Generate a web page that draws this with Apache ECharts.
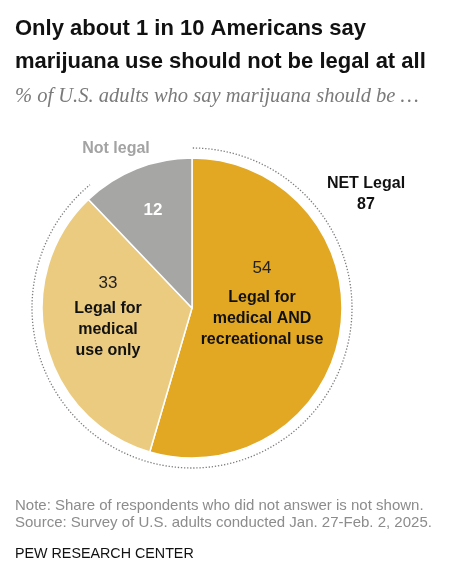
<!DOCTYPE html>
<html>
<head>
<meta charset="utf-8">
<script src="https://cdn.jsdelivr.net/npm/echarts@6/dist/echarts.min.js"></script>
<style>
  html, body { margin: 0; padding: 0; background: #fff; }
  #chart { width: 450px; height: 573px; }
</style>
</head>
<body>
<div id="chart"></div>
<script>
// ---- data ----
const categories = ['Legal for medical AND recreational use', 'Legal for medical use only', 'Not legal'];
const labelTexts = [['Legal for', 'medical AND', 'recreational use'], ['Legal for', 'medical', 'use only'], []];
const values = [54, 33, 12];
const netLabel = 'NET Legal';
const netValue = values[0] + values[1]; // 87
const notLegalLabel = 'Not legal';

// ---- layout / style ----
const CX = 192, CY = 308, R = 150, R_DOT = 160;
const colors = ['#E2A823', '#EBCB80', '#A6A6A4'];
const sliceLabelPos = [[262, 300], [108, 315], [153, 210]];
const outerLabelPos = [[366, 194], [116, 148]];
const total = values.reduce((a, b) => a + b, 0);

const chart = echarts.init(document.getElementById('chart'), null, { renderer: 'canvas' });

const mainData = values.map((v, i) => ({
  name: categories[i],
  value: v,
  itemStyle: { color: colors[i] }
}));

const outerData = [
  { name: netLabel, value: netValue },
  { name: notLegalLabel, value: values[2] }
];

const endAngle = -Math.PI / 2 + (netValue / total * 360 + 4) * Math.PI / 180;

const option = {
  backgroundColor: '#fff',
  animation: false,
  title: [
    {
      text: 'Only about 1 in 10 Americans say\nmarijuana use should not be legal at all',
      subtext: '% of U.S. adults who say marijuana should be \u2026',
      left: 15, top: 12, padding: 0, itemGap: 7,
      textStyle: { fontFamily: 'Liberation Sans', fontSize: 22, fontWeight: 'bold', color: '#111', lineHeight: 33 },
      subtextStyle: { fontFamily: 'Liberation Serif', fontStyle: 'italic', fontSize: 20.5, color: '#7a7a7a', lineHeight: 24 }
    },
    {
      text: 'Note: Share of respondents who did not answer is not shown.\nSource: Survey of U.S. adults conducted Jan. 27-Feb. 2, 2025.',
      left: 15, top: 497, padding: 0,
      textStyle: { fontFamily: 'Liberation Sans', fontSize: 15, fontWeight: 'normal', color: '#8c8c8c', lineHeight: 17 }
    },
    {
      text: 'PEW RESEARCH CENTER',
      left: 15, top: 546, padding: 0,
      textStyle: { fontFamily: 'Liberation Sans', fontSize: 14.3, fontWeight: 'normal', color: '#111', lineHeight: 16 }
    }
  ],
  graphic: [
    {
      type: 'arc',
      silent: true,
      shape: { cx: CX, cy: CY, r: R_DOT, startAngle: -Math.PI / 2 + 0.005, endAngle: endAngle, clockwise: true },
      style: { stroke: '#7d7d7d', lineWidth: 1.3, lineDash: [1.3, 1.8], fill: null }
    }
  ],
  series: [
    {
      type: 'pie',
      center: [CX, CY],
      radius: [0, R],
      startAngle: 90,
      clockwise: true,
      silent: true,
      emphasis: { disabled: true },
      itemStyle: { borderColor: '#fff', borderWidth: 1.5 },
      labelLine: { show: false },
      label: {
        show: true,
        position: 'inside',
        fontFamily: 'Liberation Sans',
        formatter: (p) => {
          const i = p.dataIndex;
          if (i === 2) return '{w|' + p.value + '}';
          return '{v' + i + '|' + p.value + '}\n' + labelTexts[i].map(t => '{t|' + t + '}').join('\n');
        },
        rich: {
          v0: { fontFamily: 'Liberation Sans', fontSize: 17, color: '#222', lineHeight: 37, align: 'center' },
          v1: { fontFamily: 'Liberation Sans', fontSize: 17, color: '#222', lineHeight: 29, align: 'center' },
          t: { fontFamily: 'Liberation Sans', fontSize: 16, fontWeight: 'bold', color: '#111', lineHeight: 21, align: 'center' },
          w: { fontFamily: 'Liberation Sans', fontSize: 17, fontWeight: 'bold', color: '#fff', lineHeight: 20, align: 'center' }
        }
      },
      labelLayout: (params) => ({
        x: sliceLabelPos[params.dataIndex][0],
        y: sliceLabelPos[params.dataIndex][1],
        align: 'center',
        verticalAlign: 'middle'
      }),
      data: mainData
    },
    {
      type: 'pie',
      center: [CX, CY],
      radius: [R_DOT, R_DOT + 1],
      startAngle: 90,
      clockwise: true,
      silent: true,
      z: 1,
      emphasis: { disabled: true },
      itemStyle: { color: 'rgba(0,0,0,0)', borderWidth: 0 },
      labelLine: { show: false },
      label: {
        show: true,
        position: 'outside',
        formatter: (p) => p.dataIndex === 0 ? '{n|' + p.name + '}\n{n|' + p.value + '}' : '{g|' + p.name + '}',
        rich: {
          n: { fontFamily: 'Liberation Sans', fontSize: 16, fontWeight: 'bold', color: '#111', lineHeight: 21, align: 'center' },
          g: { fontFamily: 'Liberation Sans', fontSize: 16, fontWeight: 'bold', color: '#a3a3a3', lineHeight: 20, align: 'center' }
        }
      },
      labelLayout: (params) => ({
        x: outerLabelPos[params.dataIndex][0],
        y: outerLabelPos[params.dataIndex][1] + (params.dataIndex === 1 ? 1 : 0),
        align: 'center',
        verticalAlign: 'middle'
      }),
      data: outerData
    }
  ]
};

chart.setOption(option);
</script>
</body>
</html>
